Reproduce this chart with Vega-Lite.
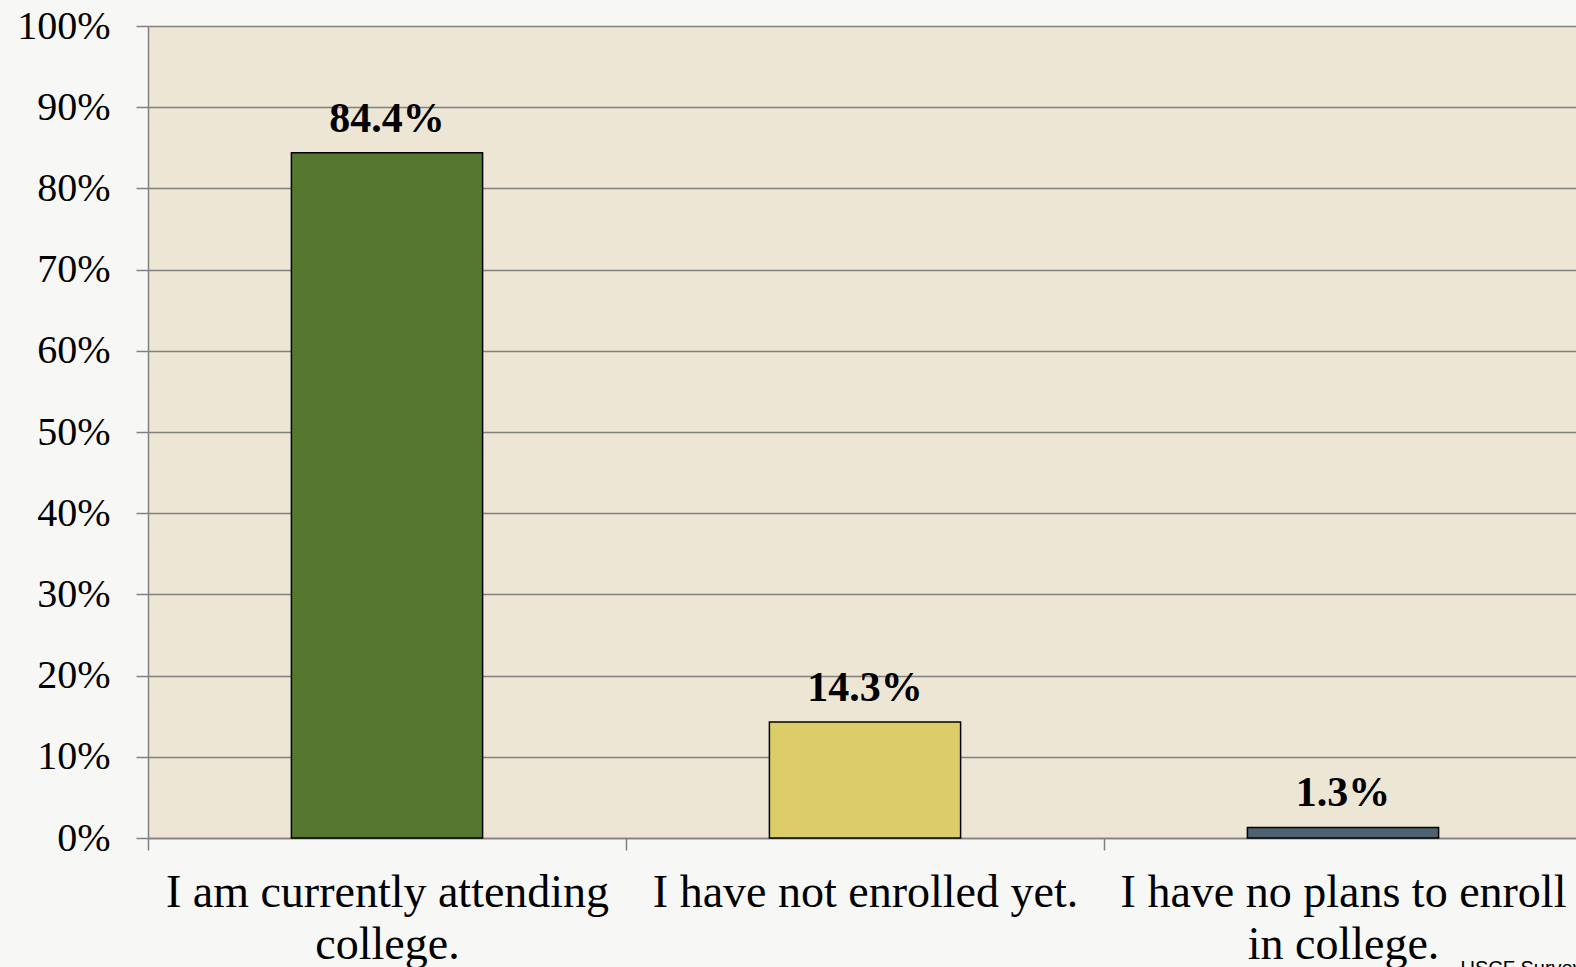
{
  "$schema": "https://vega.github.io/schema/vega-lite/v6.json",
  "autosize": "none",
  "width": 1434,
  "height": 812,
  "padding": {"left": 148, "top": 26, "right": 0, "bottom": 129},
  "background": "#f7f7f5",
  "title": {"text": "USCF Survey", "orient": "bottom", "anchor": "end", "font": "Liberation Sans", "fontSize": 20, "fontWeight": "normal", "color": "#000000", "offset": -8},
  "data": {"values": [
    {"category": "I am currently attending college.", "value": 84.4, "label": "84.4%"},
    {"category": "I have not enrolled yet.", "value": 14.3, "label": "14.3%"},
    {"category": "I have no plans to enroll in college.", "value": 1.3, "label": "1.3%"}
  ]},
  "config": {
    "view": {"fill": "#ede6d4", "stroke": null},
    "font": "Liberation Serif"
  },
  "encoding": {
    "x": {"field": "category", "type": "nominal", "sort": null,
      "scale": {"paddingInner": 0, "paddingOuter": 0},
      "axis": {"title": null, "labelAngle": 0, "labelFont": "Liberation Serif", "labelFontSize": 46, "labelColor": "#000000",
        "labelLimit": 2000, "labelPadding": 20, "labelLineHeight": 52, "tickBand": "extent", "tickSize": 12, "tickColor": "#808080", "tickWidth": 1.5,
        "domainColor": "#808080", "domainWidth": 1.5,
        "labelExpr": "datum.label == 'I am currently attending college.' ? ['I am currently attending', 'college.'] : datum.label == 'I have no plans to enroll in college.' ? ['I have no plans to enroll', 'in college.'] : datum.label"}},
    "y": {"field": "value", "type": "quantitative",
      "scale": {"domain": [0, 100], "nice": false},
      "axis": {"title": null, "values": [0,10,20,30,40,50,60,70,80,90,100], "labelExpr": "datum.value + '%'",
        "labelFont": "Liberation Serif", "labelFontSize": 40, "labelColor": "#000000", "labelPadding": 26,
        "tickSize": 12, "tickColor": "#808080", "tickWidth": 1.5, "domainColor": "#808080", "domainWidth": 1.5,
        "grid": true, "gridColor": "#808080", "gridWidth": 1.5}}
  },
  "layer": [
    {"mark": {"type": "bar", "stroke": "#000000", "strokeWidth": 1.5, "width": {"band": 0.4}},
      "encoding": {"color": {"field": "category", "type": "nominal", "sort": null, "legend": null,
        "scale": {"range": ["#56772f", "#ddcd68", "#4f6272"]}}}},
    {"mark": {"type": "text", "fontWeight": "bold", "fontSize": 42, "font": "Liberation Serif", "baseline": "bottom", "dy": -12, "color": "#000000"},
      "encoding": {"text": {"field": "label"}}}
  ]
}
